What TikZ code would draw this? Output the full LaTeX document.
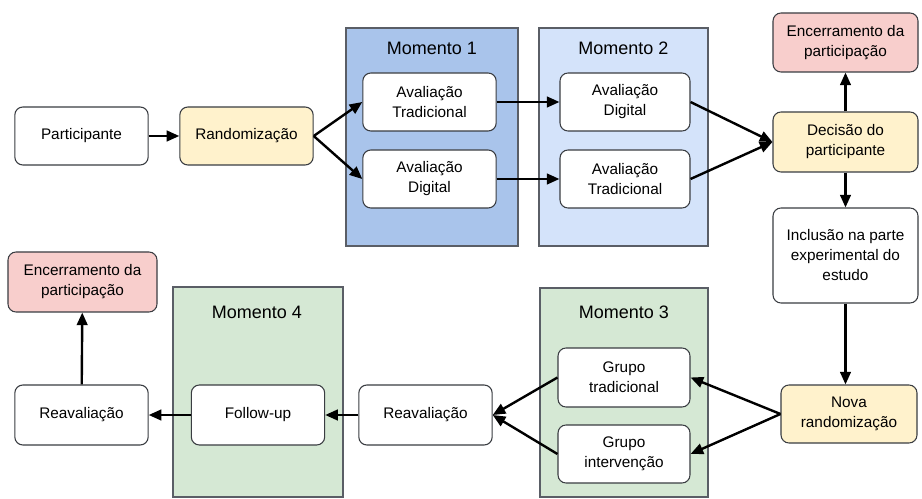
\documentclass[tikz,border=0pt]{standalone}
\usepackage{fontspec}
\setmainfont{Liberation Sans}
\usetikzlibrary{arrows.meta}

\definecolor{boxline}{HTML}{3A3D42}
\definecolor{panelline}{HTML}{5A5E66}
\definecolor{darkblue}{HTML}{A9C4EB}
\definecolor{lightblue}{HTML}{D4E3FA}
\definecolor{lightgreen}{HTML}{D5E8D4}
\definecolor{lightyellow}{HTML}{FFF2CC}
\definecolor{lightred}{HTML}{F8CECC}

\begin{document}
\begin{tikzpicture}[x=0.75pt,y=-0.75pt,
  box/.style={draw=boxline, fill=white, line width=0.8pt, rounded corners=6pt,
    align=center, inner sep=2pt, minimum width=100pt, minimum height=43.5pt,
    font=\fontsize{11.5}{15}\selectfont},
  panel/.style={draw=panelline, line width=0.8pt},
  paneltitle/.style={font=\fontsize{13.5}{16}\selectfont},
  conn/.style={line width=1.8pt, -{Triangle[length=9.5pt,width=8pt]}}]

\useasboundingbox (0,0) rectangle (922,499);
\fill[white] (0,0) rectangle (922,499);

% momentos
\filldraw[panel, fill=darkblue] (346,28) rectangle (518,246);
\filldraw[panel, fill=lightblue] (539,28) rectangle (708,246);
\filldraw[panel, fill=lightgreen] (540,288) rectangle (708,497);
\filldraw[panel, fill=lightgreen] (173,287) rectangle (343,497);
\node[paneltitle] (t1) at (432,48) {Momento 1};
\node[paneltitle] (t2) at (623.5,48) {Momento 2};
\node[paneltitle] (t3) at (624,312) {Momento 3};
\node[paneltitle] (t4) at (257,312) {Momento 4};

% linha de cima
\node[box] (part) at (81.5,136) {Participante};
\node[box, fill=lightyellow] (rand) at (246.5,136) {Randomização};
\node[box] (m1trad) at (429.5,102) {Avaliação\\Tradicional};
\node[box] (m1dig) at (429.5,179) {Avaliação\\Digital};
\node[box, minimum width=97.5pt] (m2dig) at (625,102) {Avaliação\\Digital};
\node[box, minimum width=97.5pt] (m2trad) at (625,179) {Avaliação\\Tradicional};

% coluna da direita
\node[box, fill=lightred, minimum width=108.75pt, minimum height=44.25pt] (enc1) at (845.5,42.5) {Encerramento da\\participação};
\node[box, fill=lightyellow, minimum width=108.75pt, minimum height=45pt] (dec) at (845.5,142) {Decisão do\\participante};
\node[box, minimum width=108.75pt, minimum height=71.25pt] (incl) at (845.5,255.5) {Inclusão na parte\\experimental do\\estudo};
\node[box, fill=lightyellow, minimum width=102pt] (nova) at (849,414) {Nova\\randomização};

% linha de baixo
\node[box, minimum width=99pt, minimum height=44.25pt] (gtrad) at (624,377.5) {Grupo\\tradicional};
\node[box, minimum width=99pt] (ginter) at (624,454) {Grupo\\intervenção};
\node[box, minimum height=45pt] (reav2) at (425.5,415) {Reavaliação};
\node[box, minimum height=45pt] (fu) at (258,415) {Follow-up};
\node[box, minimum height=45pt] (reav1) at (81.5,415) {Reavaliação};
\node[box, fill=lightred, minimum width=111.75pt, minimum height=45pt] (enc2) at (82.5,282) {Encerramento da\\participação};

% setas
\draw[conn] (part) -- (rand);
\draw[conn] (rand.east) -- (m1trad.west);
\draw[conn] (rand.east) -- (m1dig.west);
\draw[conn] (m1trad) -- (m2dig);
\draw[conn] (m1dig) -- (m2trad);
\draw[conn] (m2dig.east) -- (dec.west);
\draw[conn] (m2trad.east) -- (dec.west);
\draw[conn] (dec) -- (enc1);
\draw[conn] (dec) -- (incl);
\draw[conn] (incl.south) -- (incl.south |- nova.north);
\draw[conn] (nova.west) -- (gtrad.east);
\draw[conn] (nova.west) -- (ginter.east);
\draw[conn] (gtrad.west) -- (reav2.east);
\draw[conn] (ginter.west) -- (reav2.east);
\draw[conn] (reav2) -- (fu);
\draw[conn] (fu) -- (reav1);
\draw[conn] (reav1) -- (enc2);

\end{tikzpicture}
\end{document}
